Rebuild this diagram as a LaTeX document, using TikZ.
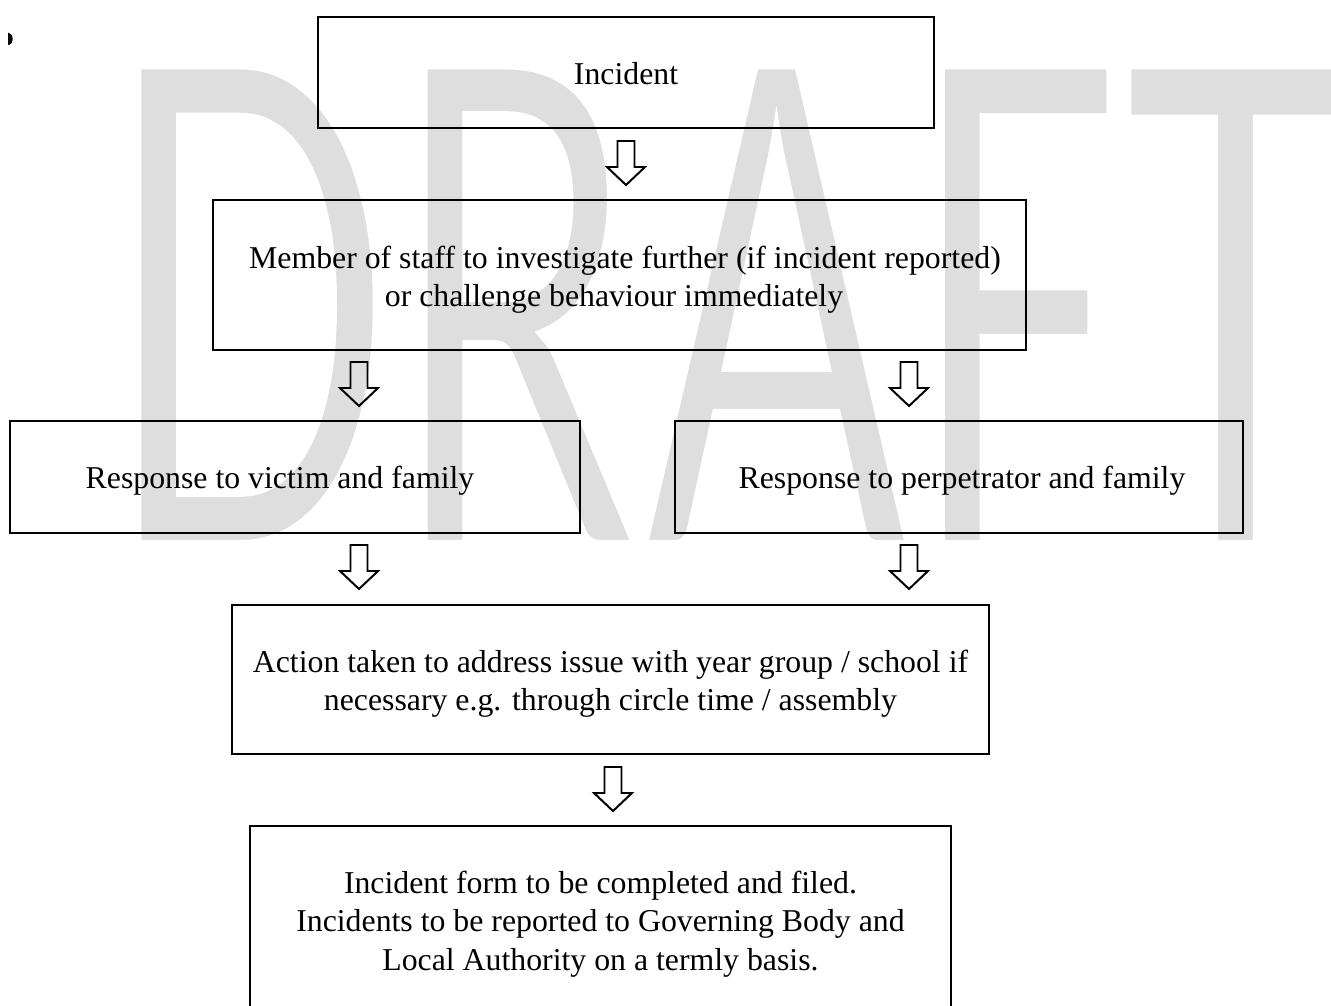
\documentclass[tikz,border=0pt]{standalone}
\usepackage{fontspec}
\setmainfont{Liberation Serif}
\newfontfamily\wmfont{Carlito}
\usetikzlibrary{calc}
\newlength\pxu
\setlength\pxu{0.3774pt}
\definecolor{wmgray}{RGB}{222,222,222}
\tikzset{
  flowbox/.style={draw=black, line width=0.95pt, inner sep=0pt},
  boxtext/.style={inner sep=0pt, align=center, font=\fontsize{12}{14.5}\selectfont},
  blockarrow/.pic={
    \draw[line width=0.75pt, line join=miter]
      (-8.5,0) -- (8.5,0) -- (8.5,26) -- (19,26) -- (0,44) -- (-19,26) -- (-8.5,26) -- cycle;
  }
}
\begin{document}
\begin{tikzpicture}[x=0.3774pt, y=-0.3774pt]
\useasboundingbox (0,0) rectangle (1331,1006);
\clip (0,0) rectangle (1331,1006);
\fill[white] (0,0) rectangle (1331,1006);
% watermark (thin outline stroke in white lightens the heavy stems)
\node[anchor=base west, inner sep=0pt, outer sep=0pt, text=wmgray] (wm) at (106.7,545.3)
  {\special{pdf:code q 2 Tr 1 1 1 RG 4 w}%
   \scalebox{0.617}[1]{\wmfont\fontsize{283}{283}\selectfont DRAFT}%
   \special{pdf:code Q}};
% stray mark
\fill[black] (8,33) -- (9,33) .. controls (14,34) and (14,44) .. (9,45) -- (8,45) -- cycle;
% boxes
\node[flowbox, minimum width=616\pxu, minimum height=111\pxu] (inc) at (626,72.5) {};
\node[flowbox, minimum width=813\pxu, minimum height=150\pxu] (mem) at (619.5,275) {};
\node[flowbox, minimum width=570\pxu, minimum height=112\pxu] (vic) at (295,477) {};
\node[flowbox, minimum width=568\pxu, minimum height=112\pxu] (per) at (959,477) {};
\node[flowbox, minimum width=757\pxu, minimum height=149\pxu] (act) at (610.5,679.5) {};
\node[flowbox, minimum width=701\pxu, minimum height=190\pxu] (frm) at (600.5,921) {};
% texts
\node[boxtext] (incT) at ($(inc.center)+(0,1)$) {Incident};
\node[boxtext] (memT) at ($(mem.center)+(0,5)$)
  {\hspace*{11\pxu}Member of staff to investigate further (if incident reported)\\
   or challenge behaviour immediately\hspace*{11\pxu}};
\node[boxtext] (vicT) at ($(vic.center)+(0,3.5)$) {Response to victim and family\hspace*{30\pxu}};
\node[boxtext] (perT) at ($(per.center)+(3,3.5)$) {Response to perpetrator and family};
\node[boxtext] (actT) at ($(act.center)+(0,4)$)
  {Action taken to address issue with year group / school if\\
   necessary e.g. through circle time / assembly};
\node[boxtext] (frmT) at ($(frm.center)+(0,3)$)
  {Incident form to be completed and filed.\\
   Incidents to be reported to Governing Body and\\
   Local Authority on a termly basis.};
% block arrows
\coordinate (a1) at (626,141);
\coordinate (a2) at (359,362);
\coordinate (a3) at (909,362);
\coordinate (a4) at (359,545);
\coordinate (a5) at (909,545);
\coordinate (a6) at (613,767);
\foreach \c in {a1,a2,a3,a4,a5,a6} \pic at (\c) {blockarrow};
\end{tikzpicture}
\end{document}
